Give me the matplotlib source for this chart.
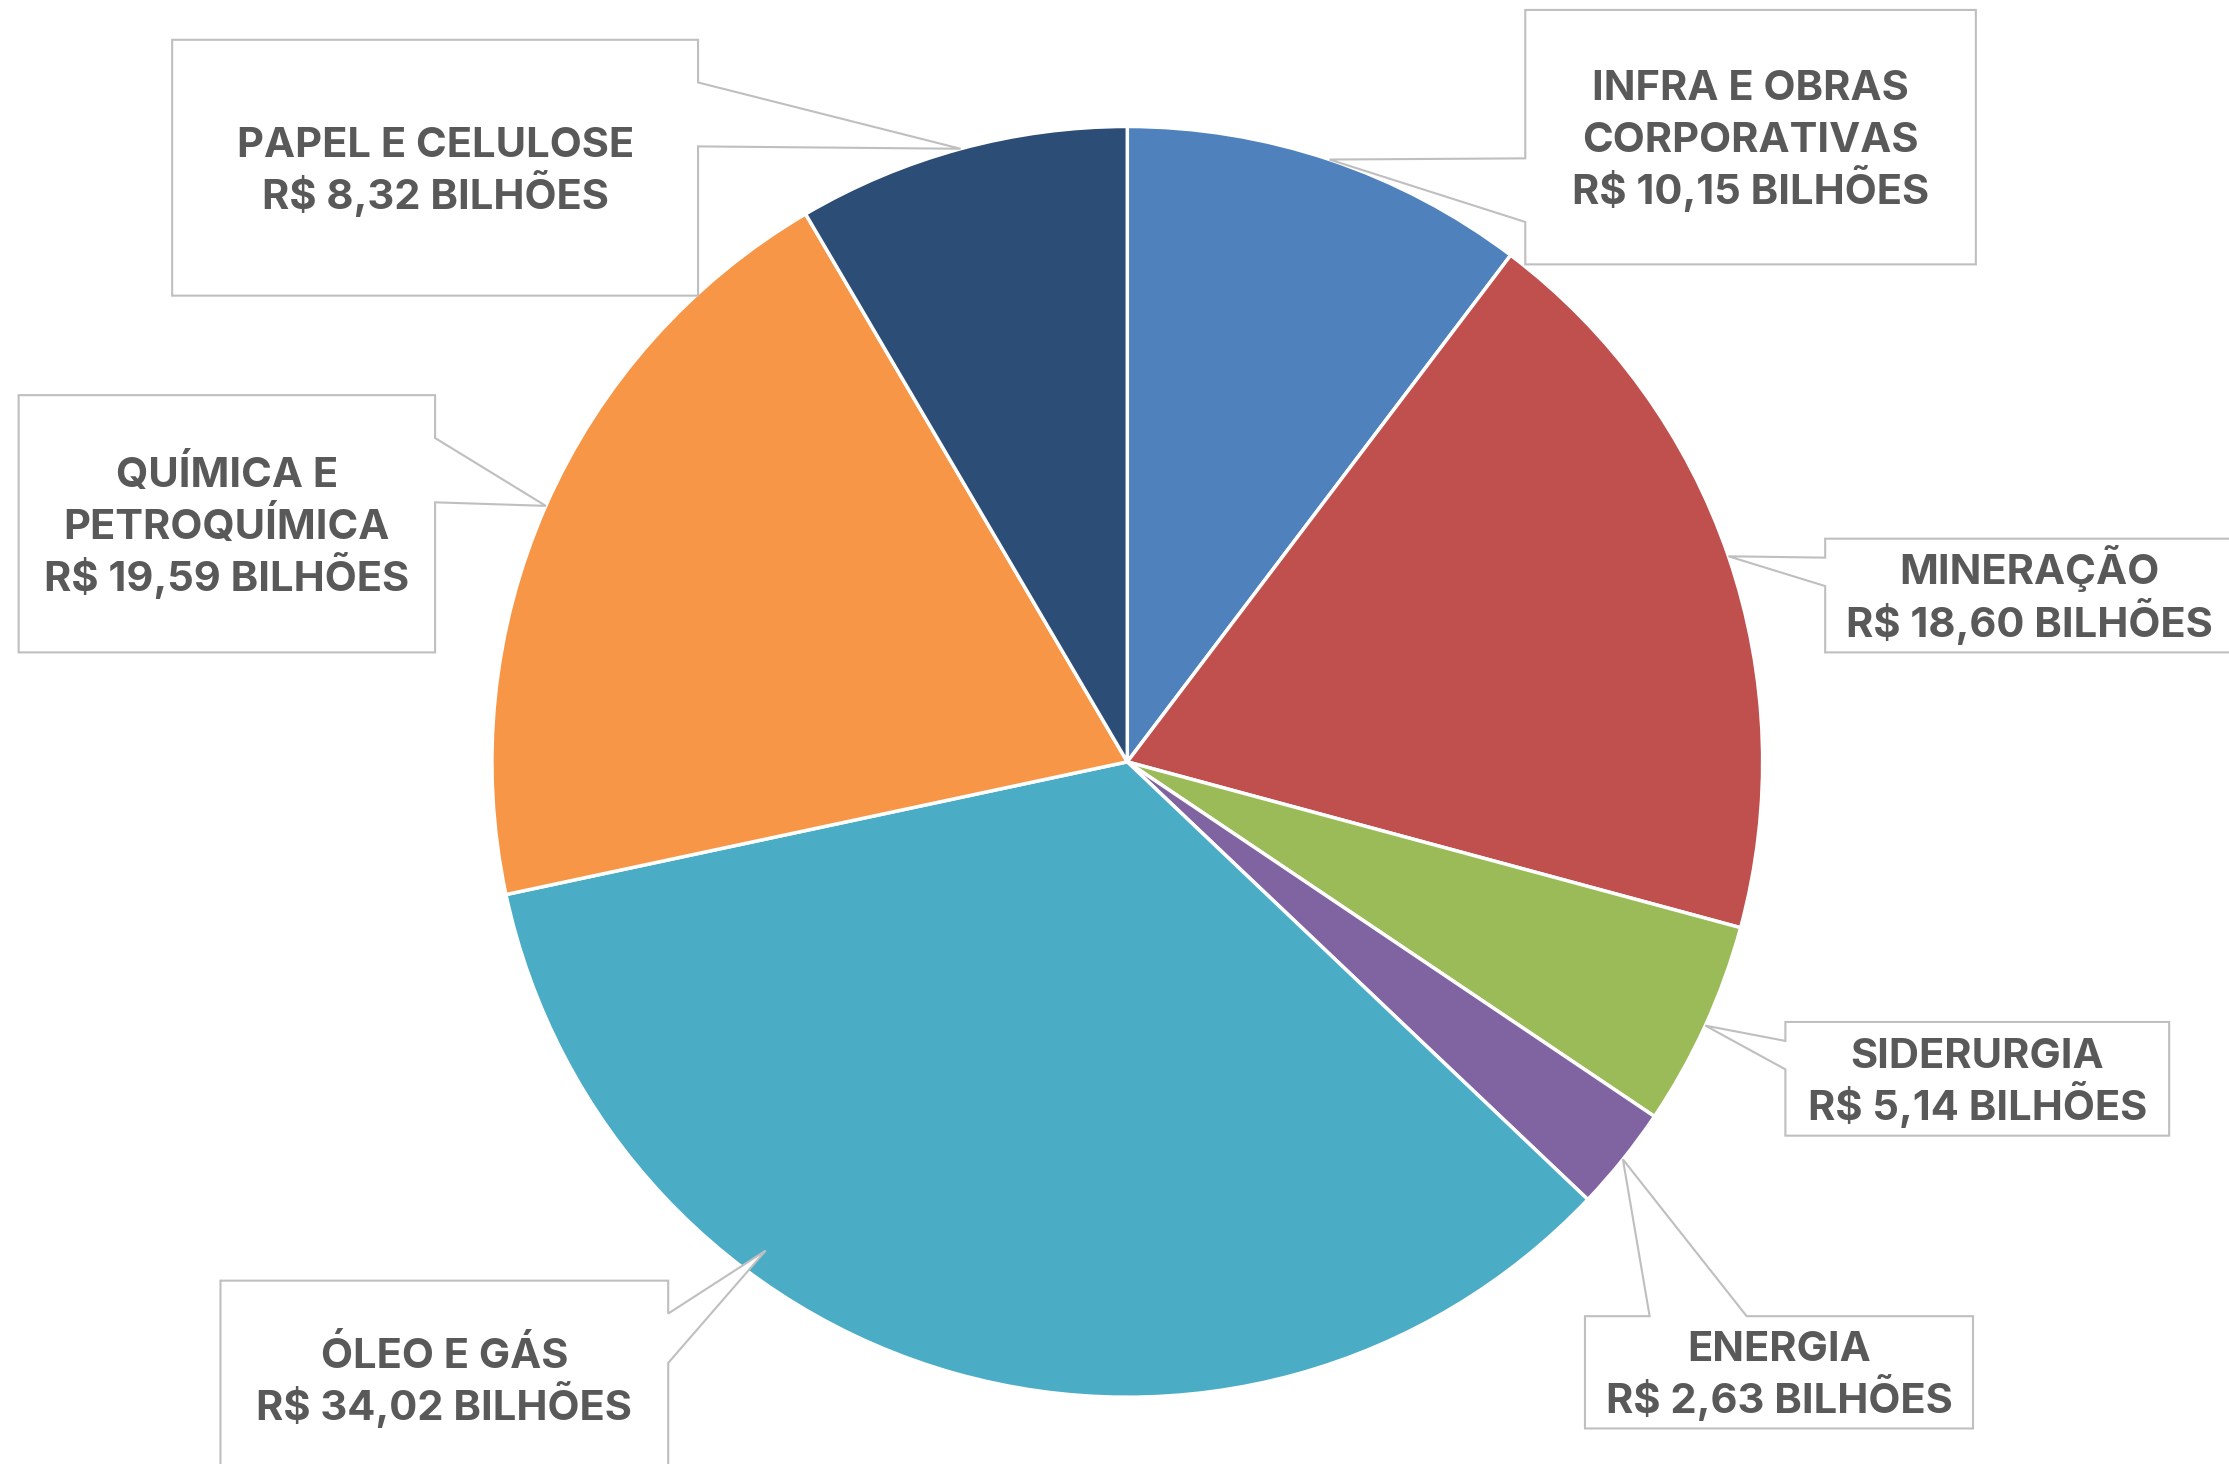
import numpy as np
import matplotlib.pyplot as plt

# data
sectors = ["INFRA E OBRAS\nCORPORATIVAS", "MINERAÇÃO", "SIDERURGIA", "ENERGIA",
           "ÓLEO E GÁS", "QUÍMICA E\nPETROQUÍMICA", "PAPEL E CELULOSE"]
values = [10.15, 18.60, 5.14, 2.63, 34.02, 19.59, 8.32]
colors = ["#4F81BD", "#C0504D", "#9BBB59", "#8064A2", "#4BACC6", "#F79646", "#2C4D75"]

# layout, in reference units (1568 x 1030, y pointing down)
W, H = 1568, 1030
cx, cy, R = 793, 536, 447
boxes = [(1073, 7, 1390, 186), (1284, 379, 1572, 459), (1256, 719, 1526, 799),
         (1115, 926, 1388, 1005), (155, 901, 470, 1040), (13, 278, 306, 459),
         (121, 28, 491, 208)]
# the oil & gas callout was dragged inside the slice
tip_override = {4: (-126.5, 0.957)}

FONT = ['Inter', 'DejaVu Sans']
TXT = '#595959'
EDGE = '#BFBFBF'
FS = 30
line_gap = 36.7
cap = 21.0


def fmt(v):
    return "R$ " + f"{v:.2f}".replace(".", ",") + " BILHÕES"


def callout_pts(x0, y0, x1, y1, tx, ty):
    w, h = x1 - x0, y1 - y0
    if tx > x1 or tx < x0:
        if ty < (y0 + y1) / 2:
            a, b = y0 + 2 * h / 12, y0 + 5 * h / 12
        else:
            a, b = y0 + 7 * h / 12, y0 + 10 * h / 12
        if tx > x1:
            return [(x0, y0), (x1, y0), (x1, a), (tx, ty), (x1, b), (x1, y1), (x0, y1)]
        return [(x0, y0), (x1, y0), (x1, y1), (x0, y1), (x0, b), (tx, ty), (x0, a)]
    if tx < (x0 + x1) / 2:
        a, b = x0 + 2 * w / 12, x0 + 5 * w / 12
    else:
        a, b = x0 + 7 * w / 12, x0 + 10 * w / 12
    return [(x0, y0), (a, y0), (tx, ty), (b, y0), (x1, y0), (x1, y1), (x0, y1)]


fig = plt.figure(figsize=(22.29, 14.64), dpi=100)
ax = fig.add_axes([0, 0, 1, 1])
wedges, _ = ax.pie(values, colors=colors, startangle=90, counterclock=False,
                   center=(cx, H - cy), radius=R,
                   wedgeprops=dict(edgecolor='white', linewidth=2.5))

for i, w in enumerate(wedges):
    ang = np.radians((w.theta1 + w.theta2) / 2)
    frac = 1.0
    if i in tip_override:
        ang = np.radians(tip_override[i][0])
        frac = tip_override[i][1]
    tx = cx + R * frac * np.cos(ang)
    ty = cy - R * frac * np.sin(ang)
    x0, y0, x1, y1 = boxes[i]
    pts = callout_pts(x0, y0, x1, y1, tx, ty)
    poly = plt.Polygon([(px, H - py) for px, py in pts], closed=True,
                       facecolor='white', edgecolor=EDGE, lw=1.5, zorder=3)
    ax.add_patch(poly)

    lines = sectors[i].split("\n") + [fmt(values[i])]
    mx, my = (x0 + x1) / 2, (y0 + y1) / 2
    n = len(lines)
    for k, line in enumerate(lines):
        yc = my + (k - (n - 1) / 2) * line_gap
        ax.text(mx, H - (yc + cap / 2), line, ha='center', va='baseline',
                fontsize=FS, fontweight='bold', color=TXT, family=FONT, zorder=4)

ax.set_xlim(0, W)
ax.set_ylim(0, H)
ax.set_aspect('equal')
ax.axis('off')

fig.savefig('out.png', dpi=100, facecolor='white')
